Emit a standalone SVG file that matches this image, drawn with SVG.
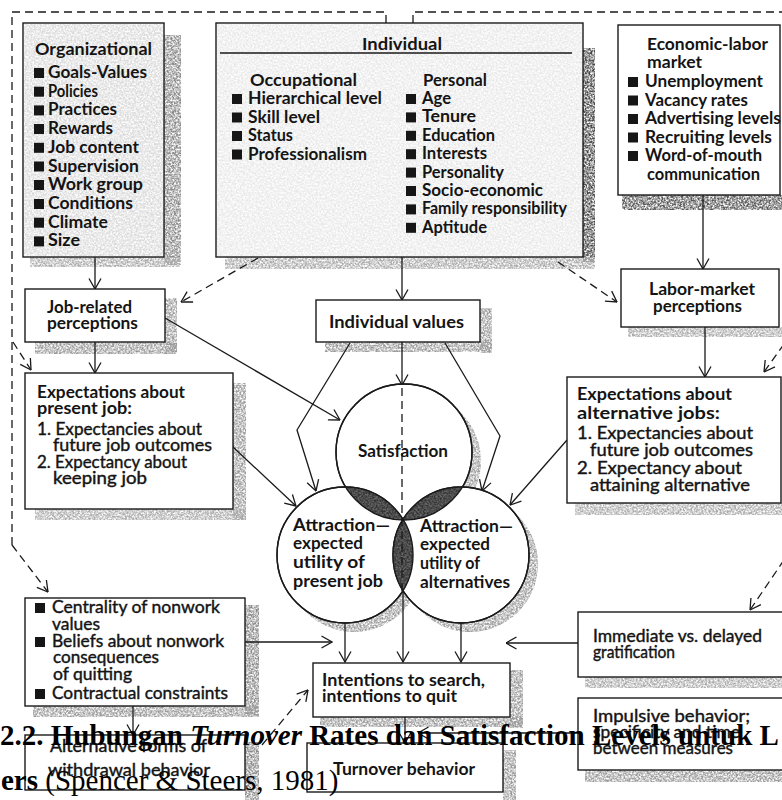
<svg xmlns="http://www.w3.org/2000/svg" width="782" height="800" viewBox="0 0 782 800">
<style>
  .box { fill: #fff; stroke: #1a1a1a; stroke-width: 1.4; }
  .b { font-family: Lato, "Open Sans", "Liberation Sans", sans-serif; font-weight: 700; font-size: 16.5px; fill: #141414; }
  .r { font-family: Lato, "Open Sans", "Liberation Sans", sans-serif; font-weight: 400; font-size: 16.5px; fill: #141414; stroke: #141414; stroke-width: 0.4; }
  .h { font-size: 17.5px; }
  .sq { fill: #161616; }
  .ar { fill: none; stroke: #1a1a1a; stroke-width: 1.3; marker-end: url(#ah); }
  .da { fill: none; stroke: #1a1a1a; stroke-width: 1.3; stroke-dasharray: 8 5; }
  .dar { fill: none; stroke: #1a1a1a; stroke-width: 1.3; stroke-dasharray: 8 5; marker-end: url(#ah); }
  .sh { filter: url(#grain); }
  .cap { font-family: "Liberation Serif", "Times New Roman", serif; font-size: 29px; fill: #000; }
</style>
<defs>
  <marker id="ah" viewBox="0 0 12 14" refX="11.5" refY="7" markerWidth="12" markerHeight="14" markerUnits="userSpaceOnUse" orient="auto">
    <path d="M1,1 L11.5,7 L1,13" fill="none" stroke="#1a1a1a" stroke-width="1.3"/>
  </marker>
  <filter id="grain" x="0" y="0" width="1" height="1">
    <feTurbulence type="fractalNoise" baseFrequency="0.55" numOctaves="2" seed="7" result="n"/>
    <feColorMatrix in="n" type="matrix" values="0 0 0 0 0  0 0 0 0 0  0 0 0 0 0  2.2 0 0 0 -0.55" result="a"/>
    <feComposite in="SourceGraphic" in2="a" operator="in"/>
  </filter>
</defs>

<!-- drop shadows and paper texture -->
<g id="shadows">
  <rect class="sh" x="164" y="35" width="17" height="230" fill="#888"/>
  <rect class="sh" x="30" y="257" width="150" height="10" fill="#aaa"/>
  <rect class="sh" x="583" y="48" width="12" height="214" fill="#444"/>
  <rect class="sh" x="225" y="257" width="370" height="12" fill="#aaa"/>
  <rect class="sh" x="622" y="195" width="160" height="15" fill="#555"/>
  <rect class="sh" x="165" y="298" width="12" height="54" fill="#999"/>
  <rect class="sh" x="35" y="342" width="142" height="12" fill="#999"/>
  <rect class="sh" x="233" y="383" width="13" height="137" fill="#999"/>
  <rect class="sh" x="35" y="509" width="211" height="11" fill="#aaa"/>
  <rect class="sh" x="480" y="308" width="12" height="45" fill="#999"/>
  <rect class="sh" x="325" y="342" width="167" height="10" fill="#999"/>
  <rect class="sh" x="628" y="327" width="154" height="10" fill="#aaa"/>
  <rect class="sh" x="575" y="503" width="207" height="12" fill="#aaa"/>
  <circle class="sh" cx="413" cy="461" r="68" fill="#999"/>
  <circle class="sh" cx="354" cy="564" r="68" fill="#999"/>
  <circle class="sh" cx="470" cy="564" r="68" fill="#999"/>
  <rect class="sh" x="245" y="605" width="14" height="111" fill="#888"/>
  <rect class="sh" x="33" y="706" width="226" height="11" fill="#999"/>
  <rect class="sh" x="245" y="742" width="14" height="58" fill="#888"/>
  <rect class="sh" x="510" y="670" width="13" height="58" fill="#999"/>
  <rect class="sh" x="320" y="717" width="203" height="10" fill="#999"/>
  <rect class="sh" x="503" y="750" width="13" height="50" fill="#999"/>
  <rect class="sh" x="585" y="677" width="197" height="11" fill="#aaa"/>
  <rect class="sh" x="585" y="770" width="197" height="12" fill="#999"/>
</g>

<!-- connectors -->
<g id="connectors">
  <!-- outer feedback frame -->
  <path class="da" d="M386,23 V12 H12 V545"/>
  <path class="dar" d="M12,545 L48,592"/>
  <path class="dar" d="M13,342 L31,370"/>
  <path class="da" d="M413,23 V12 H790"/>
  <path class="dar" d="M784,344 L764,372"/>
  <path class="dar" d="M784,560 L750,610"/>
  <!-- from Individual box -->
  <path class="dar" d="M258,258 L181,302"/>
  <path class="dar" d="M558,262 L617,302"/>
  <path class="ar" d="M402,257 V300"/>
  <!-- vertical chains -->
  <path class="ar" d="M95,257 V289"/>
  <path class="ar" d="M95,342 V373"/>
  <path class="ar" d="M703,195 V269"/>
  <path class="ar" d="M705,327 V377"/>
  <!-- into the circles -->
  <path class="ar" d="M402,342 V385"/>
  <path class="ar" d="M165,318 L340,420"/>
  <path class="ar" d="M233,447 L296,506"/>
  <path class="ar" d="M567,440 L510,505"/>
  <path class="ar" d="M350,343 L297,430 L316,491"/>
  <path class="ar" d="M445,343 L500,436 L482,491"/>
  <!-- out of the circles -->
  <path class="ar" d="M345,621 V662"/>
  <path class="ar" d="M403,591 V662"/>
  <path class="ar" d="M461,621 V662"/>
  <!-- moderators -->
  <path class="ar" d="M245,642 H332"/>
  <path class="ar" d="M578,643 H506"/>
  <path class="ar" d="M578,733 H418"/>
  <path class="ar" d="M405,717 V743"/>
  <path class="ar" d="M133,706 V735"/>
  <path class="dar" d="M262,745 L308,690"/>
</g>

<!-- nodes -->
<g id="organizational">
  <rect class="box" x="23" y="23" width="141" height="234"/>
  <rect class="sh" x="24" y="24" width="139" height="232" fill="#bbb" opacity="0.55"/>
  <text class="b h" x="35" y="55" textLength="117" lengthAdjust="spacingAndGlyphs">Organizational</text>
  <rect class="sq" x="34" y="68" width="10" height="10"/><text class="b" x="48" y="78" textLength="99" lengthAdjust="spacingAndGlyphs">Goals-Values</text>
  <rect class="sq" x="34" y="86.7" width="10" height="10"/><text class="b" x="48" y="96.7" textLength="50" lengthAdjust="spacingAndGlyphs">Policies</text>
  <rect class="sq" x="34" y="105.4" width="10" height="10"/><text class="b" x="48" y="115.4" textLength="69" lengthAdjust="spacingAndGlyphs">Practices</text>
  <rect class="sq" x="34" y="124" width="10" height="10"/><text class="b" x="48" y="134" textLength="65" lengthAdjust="spacingAndGlyphs">Rewards</text>
  <rect class="sq" x="34" y="142.8" width="10" height="10"/><text class="b" x="48" y="152.8" textLength="91" lengthAdjust="spacingAndGlyphs">Job content</text>
  <rect class="sq" x="34" y="161.5" width="10" height="10"/><text class="b" x="48" y="171.5" textLength="91" lengthAdjust="spacingAndGlyphs">Supervision</text>
  <rect class="sq" x="34" y="180" width="10" height="10"/><text class="b" x="48" y="190" textLength="95" lengthAdjust="spacingAndGlyphs">Work group</text>
  <rect class="sq" x="34" y="199" width="10" height="10"/><text class="b" x="48" y="209" textLength="85" lengthAdjust="spacingAndGlyphs">Conditions</text>
  <rect class="sq" x="34" y="217.7" width="10" height="10"/><text class="b" x="48" y="227.7" textLength="60" lengthAdjust="spacingAndGlyphs">Climate</text>
  <rect class="sq" x="34" y="236.4" width="10" height="10"/><text class="b" x="48" y="246.4" textLength="32" lengthAdjust="spacingAndGlyphs">Size</text>
</g>

<g id="individual">
  <rect class="box" x="216" y="23" width="367" height="234"/>
  <rect class="sh" x="217" y="24" width="365" height="232" fill="#ccc" opacity="0.45"/>
  <text class="b h" x="362" y="50" textLength="80" lengthAdjust="spacingAndGlyphs">Individual</text>
  <line x1="220" y1="53" x2="572" y2="53" stroke="#1a1a1a" stroke-width="1.5"/>
  <text class="b h" x="250" y="86" textLength="107" lengthAdjust="spacingAndGlyphs">Occupational</text>
  <rect class="sq" x="232" y="94" width="10" height="10"/><text class="b" x="248" y="104" textLength="134" lengthAdjust="spacingAndGlyphs">Hierarchical level</text>
  <rect class="sq" x="232" y="112.5" width="10" height="10"/><text class="b" x="248" y="122.5" textLength="72" lengthAdjust="spacingAndGlyphs">Skill level</text>
  <rect class="sq" x="232" y="131" width="10" height="10"/><text class="b" x="248" y="141" textLength="45" lengthAdjust="spacingAndGlyphs">Status</text>
  <rect class="sq" x="232" y="149.5" width="10" height="10"/><text class="b" x="248" y="159.5" textLength="119" lengthAdjust="spacingAndGlyphs">Professionalism</text>
  <text class="b h" x="423" y="86" textLength="64" lengthAdjust="spacingAndGlyphs">Personal</text>
  <rect class="sq" x="406" y="94" width="10" height="10"/><text class="b" x="422" y="104" textLength="29" lengthAdjust="spacingAndGlyphs">Age</text>
  <rect class="sq" x="406" y="112.4" width="10" height="10"/><text class="b" x="422" y="122.4" textLength="54" lengthAdjust="spacingAndGlyphs">Tenure</text>
  <rect class="sq" x="406" y="130.8" width="10" height="10"/><text class="b" x="422" y="140.8" textLength="73" lengthAdjust="spacingAndGlyphs">Education</text>
  <rect class="sq" x="406" y="149.2" width="10" height="10"/><text class="b" x="422" y="159.2" textLength="65" lengthAdjust="spacingAndGlyphs">Interests</text>
  <rect class="sq" x="406" y="167.6" width="10" height="10"/><text class="b" x="422" y="177.6" textLength="82" lengthAdjust="spacingAndGlyphs">Personality</text>
  <rect class="sq" x="406" y="186" width="10" height="10"/><text class="b" x="422" y="196" textLength="121" lengthAdjust="spacingAndGlyphs">Socio-economic</text>
  <rect class="sq" x="406" y="204.4" width="10" height="10"/><text class="b" x="422" y="214.4" textLength="145" lengthAdjust="spacingAndGlyphs">Family responsibility</text>
  <rect class="sq" x="406" y="222.8" width="10" height="10"/><text class="b" x="422" y="232.8" textLength="65" lengthAdjust="spacingAndGlyphs">Aptitude</text>
</g>

<g id="economic-labor-market">
  <rect class="box" x="618" y="25" width="162" height="170"/>
  <text class="b h" x="647" y="50" textLength="121" lengthAdjust="spacingAndGlyphs">Economic-labor</text>
  <text class="b h" x="647" y="68" textLength="55" lengthAdjust="spacingAndGlyphs">market</text>
  <rect class="sq" x="628" y="77" width="10" height="10"/><text class="b" x="645" y="87" textLength="118" lengthAdjust="spacingAndGlyphs">Unemployment</text>
  <rect class="sq" x="628" y="95.5" width="10" height="10"/><text class="b" x="645" y="105.5" textLength="103" lengthAdjust="spacingAndGlyphs">Vacancy rates</text>
  <rect class="sq" x="628" y="114" width="10" height="10"/><text class="b" x="645" y="124" textLength="136" lengthAdjust="spacingAndGlyphs">Advertising levels</text>
  <rect class="sq" x="628" y="132.5" width="10" height="10"/><text class="b" x="645" y="142.5" textLength="127" lengthAdjust="spacingAndGlyphs">Recruiting levels</text>
  <rect class="sq" x="628" y="151" width="10" height="10"/><text class="b" x="645" y="161" textLength="117" lengthAdjust="spacingAndGlyphs">Word-of-mouth</text>
  <text class="b" x="647" y="179.5" textLength="113" lengthAdjust="spacingAndGlyphs">communication</text>
</g>

<g id="job-related-perceptions">
  <rect class="box" x="25" y="289" width="140" height="53"/>
  <text class="b" x="47" y="313" textLength="85" lengthAdjust="spacingAndGlyphs">Job-related</text>
  <text class="b" x="47" y="329" textLength="91" lengthAdjust="spacingAndGlyphs">perceptions</text>
</g>

<g id="expectations-present-job">
  <rect class="box" x="25" y="373" width="208" height="136"/>
  <text class="b" x="37" y="398" textLength="148" lengthAdjust="spacingAndGlyphs">Expectations about</text>
  <text class="b" x="37" y="414" textLength="95" lengthAdjust="spacingAndGlyphs">present job:</text>
  <text class="r" x="37" y="435" textLength="165" lengthAdjust="spacingAndGlyphs">1. Expectancies about</text>
  <text class="r" x="53" y="451" textLength="159" lengthAdjust="spacingAndGlyphs">future job outcomes</text>
  <text class="r" x="37" y="467.5" textLength="150" lengthAdjust="spacingAndGlyphs">2. Expectancy about</text>
  <text class="r" x="53" y="483.5" textLength="94" lengthAdjust="spacingAndGlyphs">keeping job</text>
</g>

<g id="individual-values">
  <rect class="box" x="316" y="300" width="164" height="42"/>
  <text class="b" x="329" y="328" textLength="135" lengthAdjust="spacingAndGlyphs">Individual values</text>
</g>

<g id="labor-market-perceptions">
  <rect class="box" x="621" y="269" width="158" height="58"/>
  <text class="b" x="649" y="295" textLength="106" lengthAdjust="spacingAndGlyphs">Labor-market</text>
  <text class="b" x="653" y="312" textLength="89" lengthAdjust="spacingAndGlyphs">perceptions</text>
</g>

<g id="expectations-alternative-jobs">
  <rect class="box" x="567" y="377" width="214" height="126"/>
  <text class="b" x="577" y="400" textLength="155" lengthAdjust="spacingAndGlyphs">Expectations about</text>
  <text class="b" x="577" y="419" textLength="143" lengthAdjust="spacingAndGlyphs">alternative jobs:</text>
  <text class="r" x="577" y="439" textLength="176" lengthAdjust="spacingAndGlyphs">1. Expectancies about</text>
  <text class="r" x="590" y="456" textLength="163" lengthAdjust="spacingAndGlyphs">future job outcomes</text>
  <text class="r" x="577" y="474" textLength="165" lengthAdjust="spacingAndGlyphs">2. Expectancy about</text>
  <text class="r" x="590" y="491" textLength="160" lengthAdjust="spacingAndGlyphs">attaining alternative</text>
</g>

<g id="attraction-circles">
  <circle class="box" cx="404" cy="452" r="68"/>
  <circle class="box" cx="345" cy="555" r="68"/>
  <circle class="box" cx="461" cy="555" r="68"/>
  <g fill="#6a6a6a">
    <path d="M345.7,487 A68,68 0 0,0 403.3,520 A68,68 0 0,0 345.7,487 Z"/>
    <path d="M462.3,487 A68,68 0 0,1 402.7,520 A68,68 0 0,1 462.3,487 Z"/>
    <path d="M403,519.5 A68,68 0 0,1 403,590.5 A68,68 0 0,1 403,519.5 Z"/>
  </g>
  <g class="sh" fill="#333">
    <path d="M345.7,487 A68,68 0 0,0 403.3,520 A68,68 0 0,0 345.7,487 Z"/>
    <path d="M462.3,487 A68,68 0 0,1 402.7,520 A68,68 0 0,1 462.3,487 Z"/>
    <path d="M403,519.5 A68,68 0 0,1 403,590.5 A68,68 0 0,1 403,519.5 Z"/>
  </g>
  <circle cx="404" cy="452" r="68" fill="none" stroke="#1a1a1a" stroke-width="1.4"/>
  <circle cx="345" cy="555" r="68" fill="none" stroke="#1a1a1a" stroke-width="1.4"/>
  <circle cx="461" cy="555" r="68" fill="none" stroke="#1a1a1a" stroke-width="1.4"/>
  <path class="da" d="M402,388 V592"/>
</g>

<g id="satisfaction">
  <text class="b" x="358" y="457" textLength="90" lengthAdjust="spacingAndGlyphs">Satisfaction</text>
</g>

<g id="attraction-present-job">
  <text class="b" x="293" y="531" textLength="97" lengthAdjust="spacingAndGlyphs">Attraction—</text>
  <text class="b" x="293" y="549" textLength="70" lengthAdjust="spacingAndGlyphs">expected</text>
  <text class="b" x="293" y="568" textLength="72" lengthAdjust="spacingAndGlyphs">utility of</text>
  <text class="b" x="293" y="587" textLength="90" lengthAdjust="spacingAndGlyphs">present job</text>
</g>

<g id="attraction-alternatives">
  <text class="b" x="420" y="532" textLength="93" lengthAdjust="spacingAndGlyphs">Attraction—</text>
  <text class="b" x="420" y="550" textLength="70" lengthAdjust="spacingAndGlyphs">expected</text>
  <text class="b" x="420" y="569" textLength="60" lengthAdjust="spacingAndGlyphs">utility of</text>
  <text class="b" x="420" y="588" textLength="90" lengthAdjust="spacingAndGlyphs">alternatives</text>
</g>

<g id="nonwork-factors">
  <rect class="box" x="25" y="598" width="220" height="108"/>
  <rect class="sq" x="35" y="603" width="10" height="10"/><text class="r" x="52" y="613" textLength="168" lengthAdjust="spacingAndGlyphs">Centrality of nonwork</text>
  <text class="r" x="52" y="630" textLength="48" lengthAdjust="spacingAndGlyphs">values</text>
  <rect class="sq" x="35" y="637" width="10" height="10"/><text class="r" x="52" y="647" textLength="172" lengthAdjust="spacingAndGlyphs">Beliefs about nonwork</text>
  <text class="r" x="53" y="663" textLength="106" lengthAdjust="spacingAndGlyphs">consequences</text>
  <text class="r" x="53" y="680" textLength="79" lengthAdjust="spacingAndGlyphs">of quitting</text>
  <rect class="sq" x="35" y="689" width="10" height="10"/><text class="r" x="52" y="699" textLength="176" lengthAdjust="spacingAndGlyphs">Contractual constraints</text>
</g>

<g id="alternative-withdrawal">
  <rect class="box" x="25" y="735" width="220" height="55"/>
  <text class="r" x="50" y="752" textLength="157" lengthAdjust="spacingAndGlyphs">Alternative forms of</text>
  <text class="r" x="48" y="776" textLength="162" lengthAdjust="spacingAndGlyphs">withdrawal behavior</text>
</g>

<g id="intentions">
  <rect class="box" x="313" y="663" width="197" height="54"/>
  <text class="b" x="322" y="686" textLength="163" lengthAdjust="spacingAndGlyphs">Intentions to search,</text>
  <text class="b" x="322" y="702" textLength="135" lengthAdjust="spacingAndGlyphs">intentions to quit</text>
</g>

<g id="turnover-behavior">
  <rect class="box" x="307" y="743" width="196" height="49"/>
  <text class="b" x="333" y="775" textLength="142" lengthAdjust="spacingAndGlyphs">Turnover behavior</text>
</g>

<g id="gratification">
  <rect class="box" x="578" y="612" width="210" height="65"/>
  <text class="r" x="593" y="642" textLength="169" lengthAdjust="spacingAndGlyphs">Immediate vs. delayed</text>
  <text class="r" x="593" y="658" textLength="82" lengthAdjust="spacingAndGlyphs">gratification</text>
</g>

<g id="impulsive-behavior">
  <rect class="box" x="578" y="698" width="210" height="72"/>
  <text class="r" x="593" y="722" textLength="157" lengthAdjust="spacingAndGlyphs">Impulsive behavior;</text>
  <text class="r" x="593" y="738" textLength="147" lengthAdjust="spacingAndGlyphs">specificity and time</text>
  <text class="r" x="593" y="754" textLength="140" lengthAdjust="spacingAndGlyphs">between measures</text>
</g>

<!-- caption printed over the figure -->
<g id="caption">
  <text class="cap" x="0" y="745" font-weight="700">2.2. Hubungan <tspan font-style="italic">Turnover</tspan> Rates dan Satisfaction Levels untuk L</text>
  <text class="cap" x="1" y="790" font-size="27.5"><tspan font-weight="700">ers</tspan> (Spencer &amp; Steers, 1981)</text>
</g>
</svg>
